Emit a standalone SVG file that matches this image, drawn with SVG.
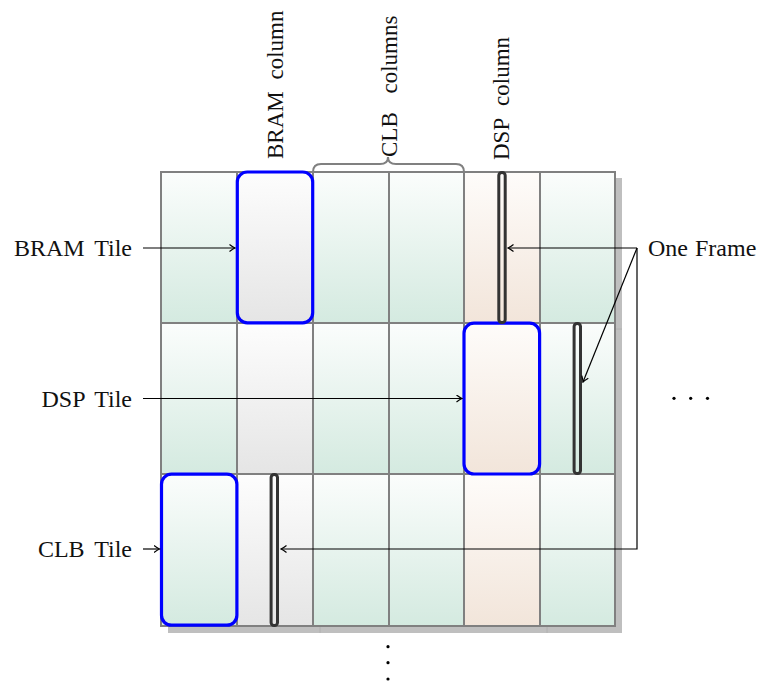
<svg xmlns="http://www.w3.org/2000/svg" width="759" height="683" viewBox="0 0 759 683">
  <style>
    .lbl { font-family: "Liberation Serif", "Times New Roman", serif; font-size: 24px; fill: #111; }
    .vlbl { font-family: "Liberation Serif", "Times New Roman", serif; font-size: 23px; fill: #111; }
    .grid { stroke: #808080; stroke-width: 2; }
    .tile { stroke: #0000ff; stroke-width: 3.2; }
    .frame { stroke: #333333; stroke-width: 3; }
    .conn { fill: none; stroke: #000; stroke-width: 1.2; }
    .shadowline { stroke: #b0b0b0; stroke-width: 1; }
  </style>
  <defs>
    <linearGradient id="gClb" x1="0" y1="0" x2="0" y2="1">
      <stop offset="0" stop-color="#fbfdfc"/>
      <stop offset="1" stop-color="#d4eae0"/>
    </linearGradient>
    <linearGradient id="gBram" x1="0" y1="0" x2="0" y2="1">
      <stop offset="0" stop-color="#fdfdfd"/>
      <stop offset="1" stop-color="#e5e5e5"/>
    </linearGradient>
    <linearGradient id="gDsp" x1="0" y1="0" x2="0" y2="1">
      <stop offset="0" stop-color="#fefcfa"/>
      <stop offset="1" stop-color="#f2e5da"/>
    </linearGradient>
    <marker id="arr" viewBox="-6 -4 7 8" refX="0" refY="0" markerWidth="7" markerHeight="8" markerUnits="userSpaceOnUse" orient="auto">
      <path d="M -5.5,-3.5 Q -2,-0.8 0,0 Q -2,0.8 -5.5,3.5" fill="none" stroke="#000" stroke-width="1.2"/>
    </marker>
  </defs>

  <!-- drop shadow behind the fabric -->
  <g id="shadow">
    <rect x="168" y="178" width="454" height="455" fill="#bfbfbf"/>
    <line class="shadowline" x1="320" y1="627" x2="320" y2="633"/>
    <line class="shadowline" x1="547" y1="627" x2="547" y2="633"/>
    <line class="shadowline" x1="616" y1="329" x2="622" y2="329"/>
  </g>

  <!-- fabric grid: columns CLB, BRAM, CLB, CLB, DSP, CLB -->
  <g id="fabric" class="grid">
    <g id="row1">
      <rect x="161" y="172" width="76" height="151" fill="url(#gClb)"/>
      <rect x="237" y="172" width="76" height="151" fill="url(#gBram)"/>
      <rect x="313" y="172" width="76" height="151" fill="url(#gClb)"/>
      <rect x="389" y="172" width="75" height="151" fill="url(#gClb)"/>
      <rect x="464" y="172" width="76" height="151" fill="url(#gDsp)"/>
      <rect x="540" y="172" width="75" height="151" fill="url(#gClb)"/>
    </g>
    <g id="row2">
      <rect x="161" y="323" width="76" height="151" fill="url(#gClb)"/>
      <rect x="237" y="323" width="76" height="151" fill="url(#gBram)"/>
      <rect x="313" y="323" width="76" height="151" fill="url(#gClb)"/>
      <rect x="389" y="323" width="75" height="151" fill="url(#gClb)"/>
      <rect x="464" y="323" width="76" height="151" fill="url(#gDsp)"/>
      <rect x="540" y="323" width="75" height="151" fill="url(#gClb)"/>
    </g>
    <g id="row3">
      <rect x="161" y="474" width="76" height="152" fill="url(#gClb)"/>
      <rect x="237" y="474" width="76" height="152" fill="url(#gBram)"/>
      <rect x="313" y="474" width="76" height="152" fill="url(#gClb)"/>
      <rect x="389" y="474" width="75" height="152" fill="url(#gClb)"/>
      <rect x="464" y="474" width="76" height="152" fill="url(#gDsp)"/>
      <rect x="540" y="474" width="75" height="152" fill="url(#gClb)"/>
    </g>
  </g>

  <!-- highlighted tiles -->
  <g id="bramTile">
    <rect class="tile" x="237.3" y="172" width="75.4" height="150.8" rx="10" fill="url(#gBram)"/>
  </g>
  <g id="dspTile">
    <rect class="tile" x="464" y="323.2" width="75.6" height="150.8" rx="10" fill="url(#gDsp)"/>
  </g>
  <g id="clbTile">
    <rect class="tile" x="161.5" y="474.2" width="75.4" height="151" rx="10" fill="url(#gClb)"/>
  </g>

  <!-- configuration frames -->
  <g id="frame1">
    <rect class="frame" x="498.8" y="172.5" width="6.4" height="150" rx="3" fill="url(#gDsp)"/>
  </g>
  <g id="frame2">
    <rect class="frame" x="574.1" y="323.5" width="6.4" height="150" rx="3" fill="url(#gClb)"/>
  </g>
  <g id="frame3">
    <rect class="frame" x="271.1" y="474.5" width="6.4" height="151" rx="3" fill="url(#gBram)"/>
  </g>

  <!-- brace over the CLB columns -->
  <g id="clbBrace">
    <path d="M 313,172 Q 313,164 321,164 L 380,164 Q 388,164 388,157 Q 388,164 396,164 L 456,164 Q 464,164 464,172" fill="none" stroke="#808080" stroke-width="2"/>
  </g>

  <!-- labels -->
  <g id="labelBramColumn">
    <text class="vlbl" transform="translate(283,159) rotate(-90)" word-spacing="6">BRAM column</text>
  </g>
  <g id="labelClbColumns">
    <text class="vlbl" transform="translate(397,157) rotate(-90)" word-spacing="13">CLB columns</text>
  </g>
  <g id="labelDspColumn">
    <text class="vlbl" transform="translate(509,160) rotate(-90)" word-spacing="7">DSP column</text>
  </g>
  <g id="labelBramTile">
    <text class="lbl" x="132" y="256" text-anchor="end" word-spacing="4">BRAM Tile</text>
  </g>
  <g id="labelDspTile">
    <text class="lbl" x="132" y="406.5" text-anchor="end" word-spacing="4">DSP Tile</text>
  </g>
  <g id="labelClbTile">
    <text class="lbl" x="132" y="557" text-anchor="end" word-spacing="4">CLB Tile</text>
  </g>
  <g id="labelOneFrame">
    <text class="lbl" x="648" y="256" word-spacing="1">One Frame</text>
  </g>

  <!-- continuation dots -->
  <g id="moreColumns" fill="#000">
    <circle cx="674" cy="398.3" r="1.6"/>
    <circle cx="690.7" cy="398.3" r="1.6"/>
    <circle cx="707.5" cy="398.3" r="1.6"/>
  </g>
  <g id="moreRows" fill="#000">
    <circle cx="388" cy="646.7" r="1.6"/>
    <circle cx="388" cy="662.7" r="1.6"/>
    <circle cx="388" cy="679" r="1.6"/>
  </g>

  <!-- connectors -->
  <g id="connectors">
    <line class="conn" x1="143" y1="248" x2="235" y2="248" marker-end="url(#arr)"/>
    <line class="conn" x1="143" y1="398.5" x2="462" y2="398.5" marker-end="url(#arr)"/>
    <line class="conn" x1="143" y1="549" x2="159.5" y2="549" marker-end="url(#arr)"/>
    <line class="conn" x1="637" y1="248" x2="508" y2="248" marker-end="url(#arr)"/>
    <line class="conn" x1="637" y1="248" x2="583" y2="382" marker-end="url(#arr)"/>
    <polyline class="conn" points="637,248 637,549 281,549" marker-end="url(#arr)"/>
  </g>
</svg>
